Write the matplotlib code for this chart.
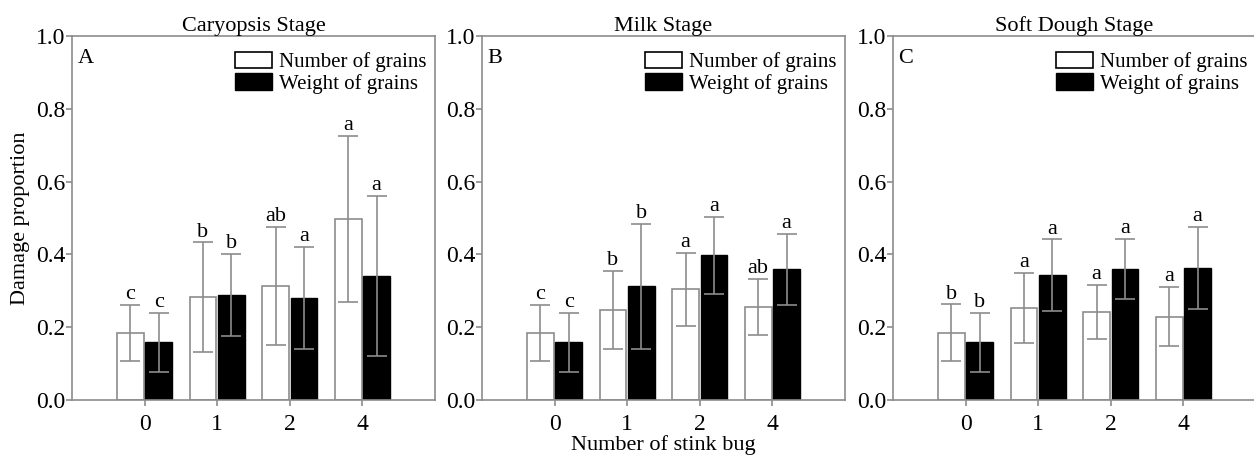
import matplotlib
matplotlib.use("Agg")
import matplotlib.pyplot as plt
import numpy as np

plt.rcParams['font.family'] = ['Liberation Serif', 'DejaVu Serif']

groups = ['0', '1', '2', '4']
titles = ['Caryopsis Stage', 'Milk Stage', 'Soft Dough Stage']
panel_tags = ['A', 'B', 'C']

# mean damage proportion, number of grains (white) / weight of grains (black)
num_mean = [[0.185, 0.283, 0.313, 0.498],
            [0.184, 0.247, 0.304, 0.256],
            [0.185, 0.253, 0.242, 0.229]]
num_err = [[0.077, 0.150, 0.162, 0.228],
           [0.078, 0.107, 0.101, 0.077],
           [0.078, 0.097, 0.075, 0.082]]
wt_mean = [[0.158, 0.288, 0.281, 0.341],
           [0.158, 0.312, 0.397, 0.359],
           [0.158, 0.343, 0.360, 0.362]]
wt_err = [[0.081, 0.113, 0.140, 0.220],
          [0.081, 0.172, 0.106, 0.097],
          [0.082, 0.098, 0.083, 0.113]]
num_letters = [['c', 'b', 'ab', 'a'],
               ['c', 'b', 'a', 'ab'],
               ['b', 'a', 'a', 'a']]
wt_letters = [['c', 'b', 'a', 'a'],
              ['c', 'b', 'a', 'a'],
              ['b', 'a', 'a', 'a']]

grey = '#8c8c8c'

fig = plt.figure(figsize=(12.54, 4.58), dpi=100)
lefts = [72, 482, 893]
w_px, b_px, h_px = 363, 58, 364

for k in range(3):
    ax = fig.add_axes([lefts[k] / 1254, b_px / 458, w_px / 1254, h_px / 458])
    x = np.arange(len(groups))
    bw = 0.37
    ax.bar(x - 0.195, num_mean[k], bw, color='white', edgecolor=grey, linewidth=1.2,
           label='Number of grains', zorder=2)
    ax.bar(x + 0.195, wt_mean[k], bw, color='black', edgecolor='black', linewidth=1.0,
           label='Weight of grains', zorder=2)
    ax.errorbar(x - 0.195, num_mean[k], yerr=num_err[k], fmt='none', ecolor=grey,
                elinewidth=1.2, capsize=7, capthick=1.2, zorder=3)
    ax.errorbar(x + 0.195, wt_mean[k], yerr=wt_err[k], fmt='none', ecolor=grey,
                elinewidth=1.2, capsize=7, capthick=1.2, zorder=3)
    for i in range(len(groups)):
        ax.text(x[i] - 0.195, num_mean[k][i] + num_err[k][i] + 0.002, num_letters[k][i],
                ha='center', va='bottom', fontsize=16)
        ax.text(x[i] + 0.195, wt_mean[k][i] + wt_err[k][i] + 0.002, wt_letters[k][i],
                ha='center', va='bottom', fontsize=16)

    ax.set_xlim(-1, 4)
    ax.set_ylim(0, 1.0)
    ax.set_xticks(x)
    ax.set_xticklabels(groups)
    ax.set_yticks(np.arange(0, 1.01, 0.2))
    ax.set_yticklabels(['%.1f' % v for v in np.arange(0, 1.01, 0.2)])
    ax.tick_params(axis='both', labelsize=17, color=grey, length=4, width=1.2, pad=1)
    ax.tick_params(axis='x', pad=6)
    for s in ax.spines.values():
        s.set_color(grey)
        s.set_linewidth(1.2)
    ax.set_title(titles[k], fontsize=16, pad=2)
    ax.text(0.015, 0.965, panel_tags[k], transform=ax.transAxes, fontsize=16,
            ha='left', va='top')
    ax.legend(loc='upper right', frameon=False, fontsize=15, handlelength=1.75,
              handleheight=0.85, handletextpad=0.35, labelspacing=0.05,
              borderaxespad=0.1, bbox_to_anchor=(1.005, 0.985))
    for p in ax.get_legend().get_patches():
        p.set_edgecolor('black')
    if k == 0:
        ax.set_ylabel('Damage proportion', fontsize=16, labelpad=4)
    if k == 1:
        ax.set_xlabel('Number of stink bug', fontsize=16, labelpad=0)

fig.savefig('out.png', dpi=100)
